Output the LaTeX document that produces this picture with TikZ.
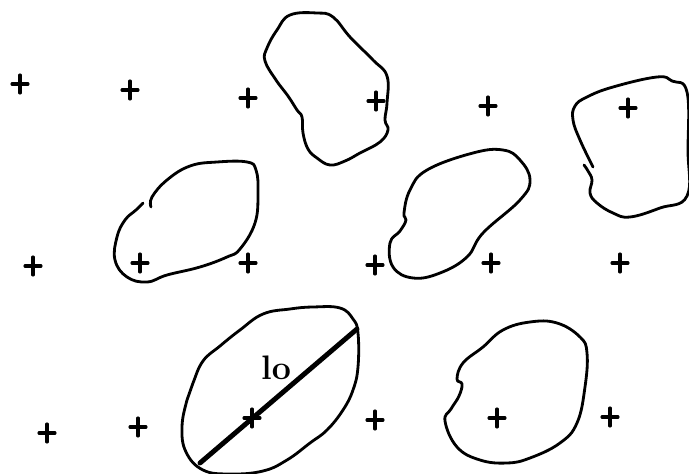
\documentclass[tikz,border=0pt]{standalone}
\usepackage{tikz}
\usetikzlibrary{calc}
\tikzset{
  blob/.style={line width=2.4pt, line join=round, line cap=round},
  tick/.style={line width=2.7pt, line cap=round},
  diam/.style={line width=4.2pt, line cap=round}
}

\begin{document}
\begin{tikzpicture}[x=0.03cm, y=-0.03cm]
  % picture in pixel units, y downwards
  \useasboundingbox (0,0) rectangle (689,474);

  % grid of crosses
  \foreach \px/\py in {
    20/84, 130/90, 248/98, 376/101, 488/106, 628/108,
    33/266, 140/263, 248/263, 375/265, 491/263, 620/263,
    47/433, 138/427, 252/418, 375/420, 497/418, 610/417
  }{
    \draw[tick] (\px-8,\py) -- (\px+8,\py);
    \draw[tick] (\px,\py-9) -- (\px,\py+9);
  }

  % top middle grain
  \draw[blob] plot[smooth cycle, tension=0.7] coordinates {
    (290,15) (317,13) (333,17) (350,37) (373,60) (387,76) (387,103)
    (385,120) (388,130) (380,142) (360,153) (345,161) (330,165)
    (317,158) (308,149) (303,133) (302,117) (297,110) (288,96)
    (276,80) (265,61) (267,48) (277,30)};

  % top right grain (ends overlap)
  \draw[blob] plot[smooth, tension=0.7] coordinates {
    (593,167) (580,140) (573,120) (575,106) (587,97) (613,87)
    (657,77) (672,81) (687,92) (688,150) (687,196) (660,208)
    (630,217) (613,213) (597,203) (590,193) (592,180) (588,171) (584,165)};

  % middle left grain (open)
  \draw[blob] plot[smooth, tension=0.7] coordinates {
    (151,207) (152,197) (167,180) (190,166) (217,162) (247,162)
    (256,170) (258,193) (255,223) (240,249) (227,257) (200,267)
    (167,275) (147,282) (127,277) (115,260) (117,237) (125,220)
    (136,210) (143,203)};

  % middle grain
  \draw[blob] plot[smooth cycle, tension=0.7] coordinates {
    (473,153) (503,150) (520,160) (530,180) (520,200) (483,233)
    (467,257) (440,273) (413,278) (393,267) (390,243) (400,231)
    (406,220) (404,213) (410,190) (427,170)};

  % bottom left grain with its diameter
  \draw[blob] plot[smooth cycle, tension=0.7] coordinates {
    (263,314) (290,309) (313,307) (340,308) (353,319) (358,333)
    (358,367) (353,390) (343,410) (327,430) (310,443) (287,460)
    (263,471) (230,474) (203,470) (186,452) (182,427) (187,400)
    (193,383) (203,361) (220,346) (240,330)};
  \coordinate (d1) at (200,463);
  \coordinate (d2) at (357,329);
  \draw[diam] (d1) -- (d2);
  \node[font=\fontsize{29}{29}\selectfont\bfseries] (len) at (276,368) {lo};

  % bottom right grain
  \draw[blob] plot[smooth cycle, tension=0.7] coordinates {
    (503,330) (530,322) (557,323) (580,337) (587,353) (585,387)
    (577,423) (560,443) (530,458) (507,463) (480,460) (457,447)
    (445,421) (451,409) (459,396) (462,384) (457,379) (463,363)
    (483,347)};
\end{tikzpicture}
\end{document}
